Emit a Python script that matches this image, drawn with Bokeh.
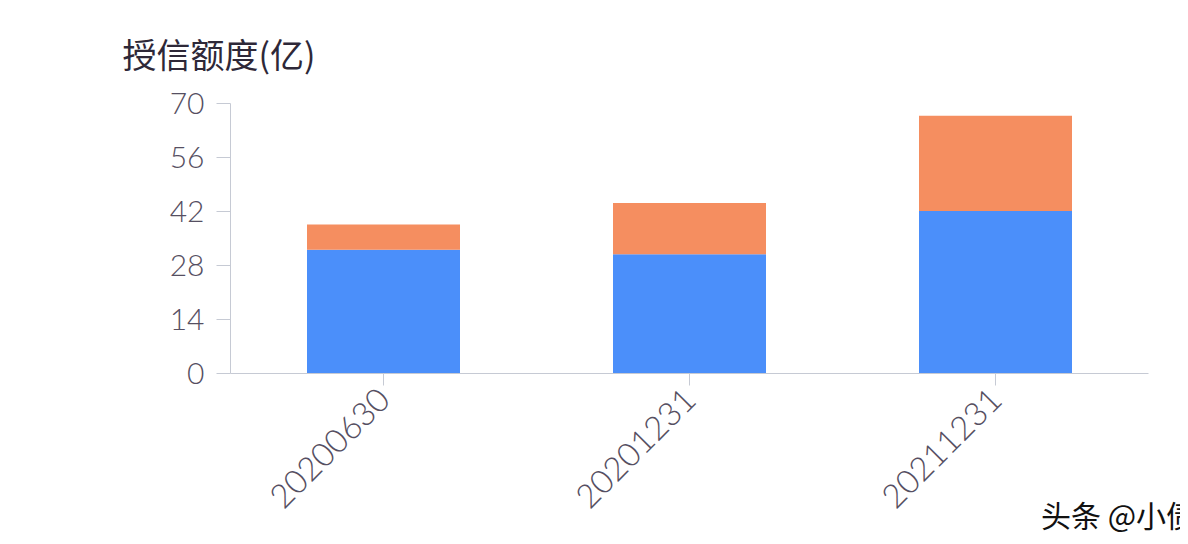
from math import pi
from bokeh.plotting import figure
from bokeh.models import FactorRange, Range1d, FixedTicker
from bokeh.embed import file_html
from bokeh.resources import INLINE

categories = ["20200630", "20201231", "20211231"]
series_names = ["blue", "orange"]
blue_values = [32.1, 30.9, 42.1]
orange_values = [6.5, 13.3, 24.7]
y_ticks = [0, 14, 28, 42, 56, 70]
title_text = "授信额度(亿)"
watermark_text = "头条 @小债看市"

data = {"cat": categories, "blue": blue_values, "orange": orange_values}

p = figure(
    width=1180, height=544,
    x_range=FactorRange(*categories, range_padding=0),
    y_range=Range1d(0, 70),
    output_backend="svg", toolbar_location=None,
    min_border_left=230, min_border_right=32, min_border_top=103, min_border_bottom=171,
)
p.vbar_stack(series_names, x="cat", width=0.5, source=data,
             color=["#4b8ffa", "#f58e60"], line_color=None)

axis_color = "#c6cad4"
label_color = "#564f62"
font = "Lato Light"
cjk = "Noto Sans CJK SC"

p.xgrid.visible = False
p.ygrid.visible = False
p.outline_line_color = None

# heading
p.title.text = title_text
p.title.align = "left"
p.title.offset = -108
p.title.standoff = 48
p.title.vertical_align = "top"
p.title.text_font = cjk
p.title.text_font_size = "34px"
p.title.text_font_style = "normal"
p.title.text_color = "#2e2838"

p.yaxis.ticker = FixedTicker(ticks=y_ticks)
p.yaxis.axis_line_color = axis_color
p.yaxis.major_tick_line_color = axis_color
p.yaxis.major_tick_out = 14
p.yaxis.major_tick_in = 0
p.yaxis.minor_tick_line_color = None
p.yaxis.major_label_text_font = font
p.yaxis.major_label_text_font_size = "30px"
p.yaxis.major_label_text_color = label_color
p.yaxis.major_label_standoff = 12

p.xaxis.axis_line_color = axis_color
p.xaxis.major_tick_line_color = axis_color
p.xaxis.major_tick_out = 12
p.xaxis.major_tick_in = 0
p.xaxis.major_label_orientation = pi / 4
p.xaxis.major_label_text_font = font
p.xaxis.major_label_text_font_size = "33px"
p.xaxis.major_label_text_color = label_color
p.xaxis.major_label_standoff = 8

# watermark carried by the x-axis label, right-aligned at the bottom
p.xaxis.axis_label = watermark_text
p.xaxis.axis_label_align = "end"
p.xaxis.axis_label_text_align = "right"
p.xaxis.axis_label_standoff_mode = "axis"
p.xaxis.axis_label_standoff = 118
p.xaxis.axis_label_text_font = cjk
p.xaxis.axis_label_text_font_size = "30px"
p.xaxis.axis_label_text_font_style = "normal"
p.xaxis.axis_label_text_color = "#111111"

open("out.html", "w").write(file_html(p, INLINE))
